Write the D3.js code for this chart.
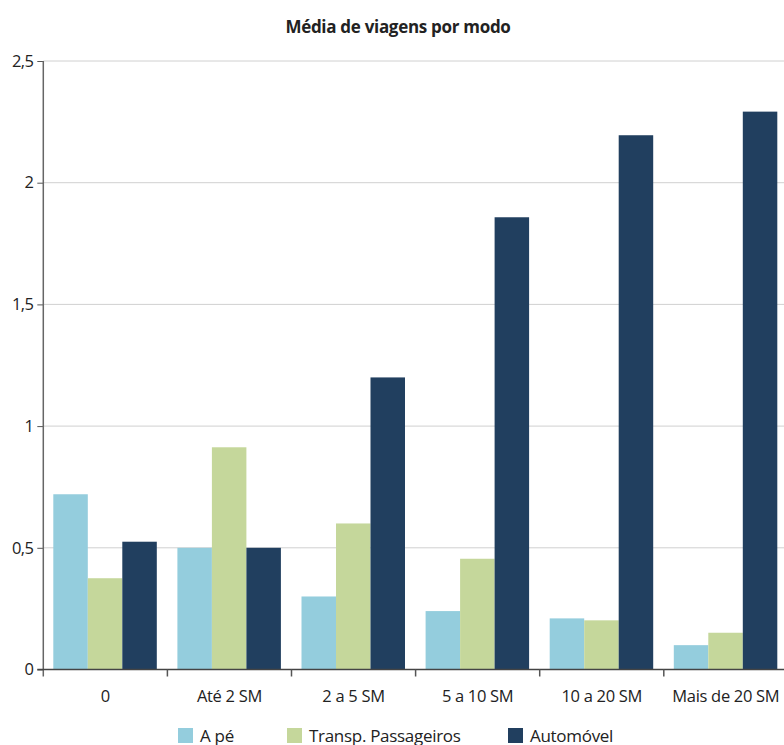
<!DOCTYPE html>
<html><head><meta charset="utf-8">
<script src="https://cdn.jsdelivr.net/npm/d3@7"></script>
<style>body{margin:0;background:#fff;} svg{display:block;font-family:"Open Sans",sans-serif;}</style>
</head><body>
<svg id="c" width="784" height="745"></svg>
<script>
const categories = ["0","Até 2 SM","2 a 5 SM","5 a 10 SM","10 a 20 SM","Mais de 20 SM"];
const seriesNames = ["A pé","Transp. Passageiros","Automóvel"];
const aPe = [0.72,0.50,0.30,0.24,0.21,0.10];
const transp = [0.375,0.913,0.60,0.455,0.202,0.151];
const auto = [0.525,0.50,1.20,1.858,2.195,2.292];
const yTicks = [0,0.5,1,1.5,2,2.5];
const colors = ["#94cddd","#c5d79b","#213f5f"];

const values = [aPe, transp, auto];
const svg = d3.select("#c");
const x0 = 43.3, bandW = 124.1;
const x = d3.scaleBand().domain(categories).range([x0, x0 + bandW*categories.length]).padding(0);
const xs = d3.scaleBand().domain(seriesNames).range([10, 113.5]).padding(0);
const y = d3.scaleLinear().domain([0,2.5]).range([669.5, 61]);

// gridlines
svg.append("g").selectAll("line").data(yTicks.filter(d=>d>0)).join("line")
  .attr("x1", x0).attr("x2", 784).attr("y1", d=>y(d)).attr("y2", d=>y(d))
  .attr("stroke", "#d0d0d0").attr("stroke-width", 1);

// bars
const g = svg.append("g");
categories.forEach((c,i)=>{
  seriesNames.forEach((s,j)=>{
    g.append("rect")
      .attr("x", x(c)+xs(s)).attr("width", xs.bandwidth())
      .attr("y", y(values[j][i])).attr("height", y(0)-y(values[j][i]))
      .attr("fill", colors[j]);
  });
});

// y axis
const yAxis = d3.axisLeft(y).tickValues(yTicks).tickSize(6).tickPadding(4)
  .tickFormat(d=>String(d).replace(".",","));
const ya = svg.append("g").attr("transform", `translate(${x0},0)`).call(yAxis);
ya.attr("font-size", null).attr("font-family", null);
ya.select(".domain").remove();
ya.selectAll(".tick line").attr("stroke","#555");
ya.selectAll("text").style("font-size", "16.5px").style("font-family","'Open Sans',sans-serif").attr("fill","#222").attr("letter-spacing",-0.6);
svg.append("line").attr("x1",x0).attr("x2",x0).attr("y1",y(2.5)).attr("y2",y(0)+7).attr("stroke","#666").attr("stroke-width",1.5);

// x axis
svg.append("line").attr("x1", x0-6).attr("x2", 784).attr("y1", y(0)).attr("y2", y(0)).attr("stroke","#444").attr("stroke-width",1.5);
svg.append("g").selectAll("line").data(categories.slice(1)).join("line")
  .attr("x1", d=>x(d)).attr("x2", d=>x(d)).attr("y1", y(0)).attr("y2", y(0)+7)
  .attr("stroke","#555").attr("stroke-width",1.5);
svg.append("g").selectAll("text").data(categories).join("text")
  .attr("x", d=>x(d)+bandW/2).attr("y", 702)
  .attr("text-anchor","middle").attr("font-size",16.5).attr("fill","#222")
  .attr("letter-spacing", -0.3)
  .text(d=>d);

// title
svg.append("text").attr("x", 398).attr("y", 33).attr("text-anchor","middle")
  .attr("font-size", 17).attr("font-weight","bold").attr("fill","#222").attr("letter-spacing",-0.3)
  .text("Média de viagens por modo");

// legend
const legX = [178, 287, 508];
const leg = svg.append("g").selectAll("g").data(seriesNames).join("g")
  .attr("transform", (d,i)=>`translate(${legX[i]},728)`);
leg.append("rect").attr("width",15).attr("height",15).attr("fill",(d,i)=>colors[i]);
leg.append("text").attr("x",22).attr("y",13.5).attr("font-size",17).attr("fill","#222").attr("letter-spacing",-0.3).text(d=>d);
</script>
</body></html>
